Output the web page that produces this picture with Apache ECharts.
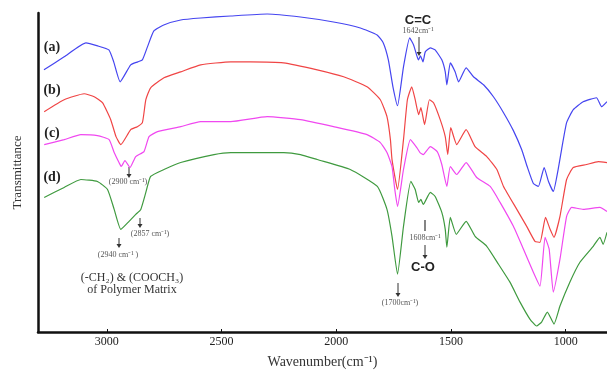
<!DOCTYPE html>
<html>
<head>
<meta charset="utf-8">
<script src="https://cdn.jsdelivr.net/npm/echarts@6/dist/echarts.min.js"></script>
<style>
  html, body { margin: 0; padding: 0; background: #fff; }
  #chart1 { width: 607px; height: 374px; }
</style>
</head>
<body>
<div id="chart1"></div>
<script>
  // wavenumber (cm-1), transmittance (offset, arbitrary units)
  var xTicks = [1000, 1500, 2000, 2500, 3000];

  var waveA = [3274, 3186, 3091, 3040, 2991, 2970, 2942, 2896, 2865, 2845, 2823, 2795, 2752, 2678, 2591, 2460, 2301, 2156, 2012, 1895, 1822, 1795, 1773, 1753, 1733, 1707, 1680, 1663, 1650, 1642, 1633, 1622, 1612, 1590, 1569, 1540, 1525, 1518, 1503, 1482, 1467, 1434, 1402, 1358, 1315, 1271, 1228, 1192, 1168, 1141, 1119, 1094, 1075, 1054, 1033, 1018, 996, 967, 924, 866, 843, 820];
  var transA = [263, 276, 290, 287, 283, 271, 251, 268, 271, 273, 286, 302, 308, 313, 315, 317, 319, 316, 311, 305, 298, 290, 273, 246, 227, 266, 295, 288, 278, 273, 277, 271, 281, 285, 283, 273, 261, 248, 270, 261, 251, 265, 256, 248, 236, 220, 202, 183, 166, 149, 146, 165, 151, 141, 163, 183, 210, 223, 231, 235, 226, 231];

  var waveB = [3273, 3186, 3099, 3055, 3019, 2983, 2960, 2939, 2896, 2867, 2845, 2830, 2809, 2751, 2678, 2591, 2460, 2373, 2230, 2083, 1968, 1866, 1808, 1779, 1764, 1757, 1733, 1707, 1690, 1671, 1656, 1641, 1631, 1615, 1594, 1576, 1547, 1525, 1514, 1501, 1475, 1434, 1395, 1344, 1300, 1271, 1213, 1170, 1134, 1112, 1088, 1068, 1051, 1025, 996, 967, 909, 858, 820];
  var transB = [221, 233, 239, 236, 230, 213, 196, 188, 203, 206, 210, 233, 245, 255, 261, 268, 271, 271, 270, 263, 256, 246, 233, 216, 193, 173, 143, 193, 233, 246, 233, 218, 225, 208, 233, 230, 213, 196, 178, 205, 188, 203, 186, 176, 163, 146, 123, 106, 91, 90, 115, 103, 95, 116, 153, 165, 168, 171, 170];

  var waveC = [3273, 3186, 3113, 3041, 2990, 2968, 2947, 2937, 2921, 2899, 2874, 2838, 2816, 2779, 2678, 2591, 2460, 2301, 2156, 2012, 1866, 1808, 1779, 1757, 1745, 1733, 1707, 1677, 1649, 1635, 1621, 1590, 1560, 1540, 1518, 1503, 1475, 1434, 1388, 1329, 1286, 1228, 1184, 1141, 1112, 1090, 1072, 1054, 1025, 996, 974, 924, 851, 820];
  var transC = [188, 193, 198, 197, 193, 180, 170, 166, 172, 165, 176, 181, 196, 201, 206, 211, 211, 216, 213, 206, 198, 190, 180, 166, 143, 126, 163, 193, 185, 180, 178, 186, 181, 168, 146, 166, 158, 170, 155, 146, 130, 106, 83, 60, 46, 95, 83, 40, 73, 116, 125, 123, 125, 121];

  var waveD = [3273, 3186, 3113, 3041, 2997, 2968, 2939, 2903, 2874, 2852, 2830, 2809, 2751, 2678, 2533, 2460, 2229, 2156, 2083, 1939, 1821, 1779, 1757, 1733, 1707, 1675, 1656, 1641, 1631, 1621, 1590, 1569, 1540, 1525, 1518, 1503, 1477, 1434, 1395, 1344, 1293, 1243, 1199, 1156, 1127, 1105, 1080, 1051, 1025, 982, 938, 880, 851, 837, 820];
  var transD = [135, 145, 153, 151, 143, 123, 103, 111, 118, 123, 140, 156, 163, 170, 178, 180, 180, 178, 173, 163, 146, 123, 96, 58, 106, 151, 143, 130, 133, 128, 140, 136, 120, 103, 85, 115, 98, 111, 96, 86, 68, 50, 30, 13, 6, 10, 20, 8, 26, 50, 70, 86, 95, 88, 100];

  var seriesNames = ['(a)', '(b)', '(c)', '(d)'];
  var seriesColors = ['#4545f0', '#f04545', '#f048f0', '#3f9a3f'];

  const pairs = (xs, ys) => xs.map((x, i) => [x, ys[i]]);

  // 화살표 (annotation arrow)
  const arrow = (x, y1, y2) => [
    { type: 'line', shape: { x1: x, y1: y1, x2: x, y2: y2 - 3 }, style: { stroke: '#333', lineWidth: 1 } },
    { type: 'polygon', shape: { points: [[x - 2.5, y2 - 4], [x + 2.5, y2 - 4], [x, y2]] }, style: { fill: '#333' } }
  ];

  const label = (x, y, text, size, opt) => Object.assign({
    type: 'text', x: x, y: y,
    style: {
      text: text, fontSize: size, fontFamily: 'Liberation Serif', fill: '#555',
      align: 'center', verticalAlign: 'middle'
    }
  }, opt || {});

  const getSpectrum = chartId => {
    let myChart = echarts.init(document.getElementById(chartId));
    let option;

    let graphics = [
      label(52, 47, '(a)', 14, {}),
      label(52, 90, '(b)', 14, {}),
      label(52, 133, '(c)', 14, {}),
      label(52, 177, '(d)', 14, {}),
      label(418, 20, 'C=C', 13, {}),
      label(418, 31, '1642cm⁻¹', 8, {}),
      label(128, 182, '(2900 cm⁻¹)', 8, {}),
      label(150, 234, '(2857 cm⁻¹)', 8, {}),
      label(118, 255, '(2940 cm⁻¹ )', 8, {}),
      label(132, 278, '(-CH₂) & (COOCH₃)', 12, {}),
      label(132, 290, 'of Polymer Matrix', 12, {}),
      label(400, 303, '(1700cm⁻¹)', 8, {}),
      label(425, 238, '1608cm⁻¹', 8, {}),
      label(423, 267, 'C-O', 13, {}),
      { type: 'line', shape: { x1: 425, y1: 220, x2: 425, y2: 231 }, style: { stroke: '#333', lineWidth: 1.2 } }
    ];
    // bold letters
    [0, 1, 2, 3].forEach(i => { graphics[i].style.fontWeight = 'bold'; graphics[i].style.fill = '#222'; });
    [4, 13].forEach(i => {
      graphics[i].style.fontWeight = 'bold';
      graphics[i].style.fontFamily = 'Liberation Sans';
      graphics[i].style.fill = '#222';
    });
    [9, 10].forEach(i => { graphics[i].style.fill = '#333'; });

    graphics = graphics
      .concat(arrow(419, 37, 56))
      .concat(arrow(129, 167, 178))
      .concat(arrow(140, 218, 228))
      .concat(arrow(119, 238, 248))
      .concat(arrow(398, 283, 297))
      .concat(arrow(425, 245, 259));

    option = {
      animation: false,
      grid: {
        left: 38,
        right: 0,
        top: 13,
        bottom: 41
      },
      xAxis: {
        type: 'value',
        inverse: true,
        min: 820,
        max: 3300,
        name: 'Wavenumber(cm⁻¹)',
        nameLocation: 'middle',
        nameGap: 23,
        nameTextStyle: { fontFamily: 'Liberation Serif', fontSize: 14, color: '#333' },
        axisLine: { onZero: false, lineStyle: { color: '#111', width: 2.5 } },
        axisTick: { show: true, inside: true, length: 3, customValues: xTicks, lineStyle: { color: '#111' } },
        axisLabel: {
          customValues: xTicks,
          formatter: v => String(v),
          margin: 4,
          fontFamily: 'Liberation Serif',
          fontSize: 12,
          color: '#222'
        },
        splitLine: { show: false }
      },
      yAxis: {
        type: 'value',
        min: 0,
        max: 320,
        name: 'Transmittance',
        nameLocation: 'middle',
        nameGap: 14,
        nameTextStyle: { fontFamily: 'Liberation Serif', fontSize: 13, color: '#333' },
        axisLine: { show: true, onZero: false, lineStyle: { color: '#111', width: 2.5 } },
        axisTick: { show: false },
        axisLabel: { show: false },
        splitLine: { show: false }
      },
      color: seriesColors,
      series: [
        { name: seriesNames[0], type: 'line', showSymbol: false, data: pairs(waveA, transA) },
        { name: seriesNames[1], type: 'line', showSymbol: false, data: pairs(waveB, transB) },
        { name: seriesNames[2], type: 'line', showSymbol: false, data: pairs(waveC, transC) },
        { name: seriesNames[3], type: 'line', showSymbol: false, data: pairs(waveD, transD) }
      ].map(s => Object.assign(s, { smooth: 0.15, lineStyle: { width: 1.2 }, z: 3 })),
      graphic: graphics
    };

    option && myChart.setOption(option);
  }

  getSpectrum('chart1');
</script>
</body>
</html>
